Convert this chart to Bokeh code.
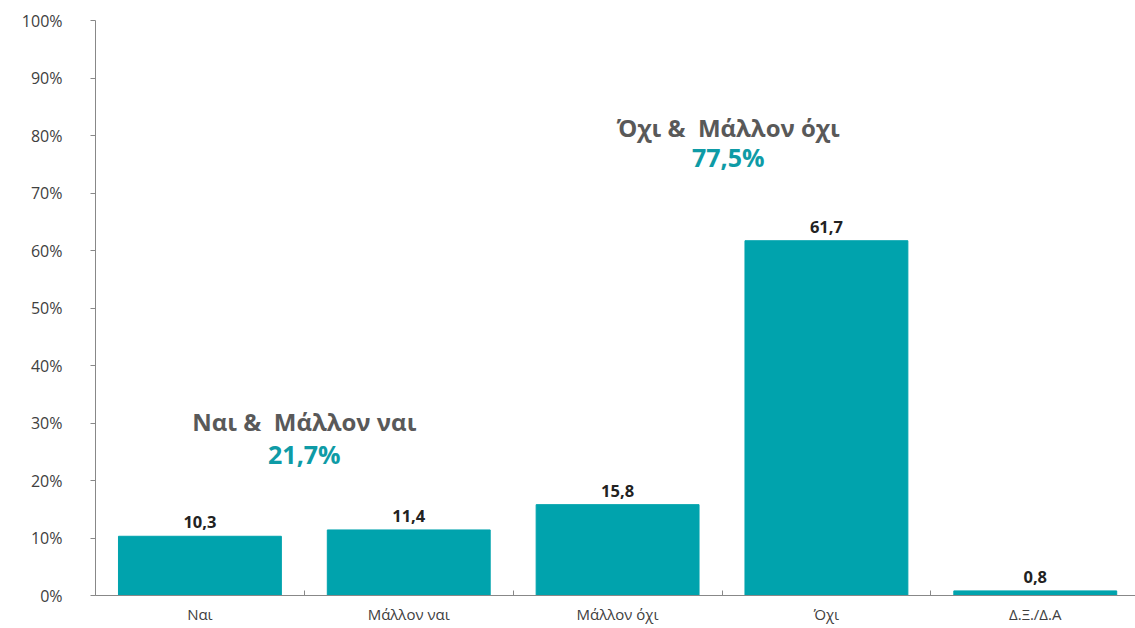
from bokeh.plotting import figure
from bokeh.models import ColumnDataSource, FixedTicker, Range1d
from bokeh.core.properties import value
from bokeh.embed import file_html
from bokeh.resources import INLINE

categories = ["Ναι", "Μάλλον ναι", "Μάλλον όχι", "Όχι", "Δ.Ξ./Δ.Α"]
values = [10.3, 11.4, 15.8, 61.7, 0.8]
y_ticks = [0, 10, 20, 30, 40, 50, 60, 70, 80, 90, 100]

group_titles = ["Ναι &\u00a0 Μάλλον ναι", "Όχι &\u00a0 Μάλλον όχι"]
group_totals = ["21,7%", "77,5%"]
group_x = [1.0, 3.03]
group_title_y = [30.3, 81.4]
group_total_y = [24.6, 76.2]

FONT = "Open Sans"
TEAL = "#00A3AD"

xs = [i + 0.5 for i in range(len(categories))]
labels = [f"{v:.1f}".replace(".", ",") for v in values]
src = ColumnDataSource(dict(x=xs, top=values, label=labels))

p = figure(width=1135, height=626, output_backend="svg", toolbar_location=None,
           x_range=Range1d(0, 4.98), y_range=Range1d(0, 100),
           min_border_left=95, min_border_right=0, min_border_top=20, min_border_bottom=30)
p.outline_line_color = None
p.xgrid.visible = False
p.ygrid.visible = False
p.background_fill_color = "white"
p.border_fill_color = "white"

p.vbar(x="x", top="top", bottom=0, width=0.78, color=TEAL, source=src)
p.text(x="x", y="top", text="label", source=src, text_align="center", text_baseline="bottom",
       y_offset=-8, text_font=value(FONT), text_font_style="bold", text_font_size="16.5px",
       text_color="#222222")

p.text(x=group_x, y=group_title_y, text=group_titles, text_align="center", text_baseline="middle",
       text_font=value(FONT), text_font_style="bold", text_font_size="24px", text_color="#595959")
p.text(x=group_x, y=group_total_y, text=group_totals, text_align="center", text_baseline="middle",
       text_font=value(FONT), text_font_style="bold", text_font_size="25px", text_color="#0E9BA6")

# x axis
p.xaxis.ticker = FixedTicker(ticks=xs, minor_ticks=list(range(len(categories) + 1)))
p.xaxis.major_label_overrides = {x: c for x, c in zip(xs, categories)}
p.xaxis.major_tick_in = 0
p.xaxis.major_tick_out = 0
p.xaxis.minor_tick_in = 5
p.xaxis.minor_tick_out = 0
p.xaxis.minor_tick_line_color = "#888888"
p.xaxis.axis_line_color = "#888888"
p.xaxis.major_label_text_font = FONT
p.xaxis.major_label_text_font_size = "15px"
p.xaxis.major_label_text_color = "#404040"
p.xaxis.major_label_standoff = 8

# y axis
p.yaxis.ticker = FixedTicker(ticks=y_ticks, minor_ticks=[])
p.yaxis.major_label_overrides = {t: f"{t}%" for t in y_ticks}
p.yaxis.major_tick_in = 0
p.yaxis.major_tick_out = 5
p.yaxis.major_tick_line_color = "#888888"
p.yaxis.axis_line_color = "#888888"
p.yaxis.major_label_text_font = FONT
p.yaxis.major_label_text_font_size = "16px"
p.yaxis.major_label_text_color = "#404040"
p.yaxis.major_label_standoff = 28

open("out.html", "w").write(file_html(p, INLINE))
